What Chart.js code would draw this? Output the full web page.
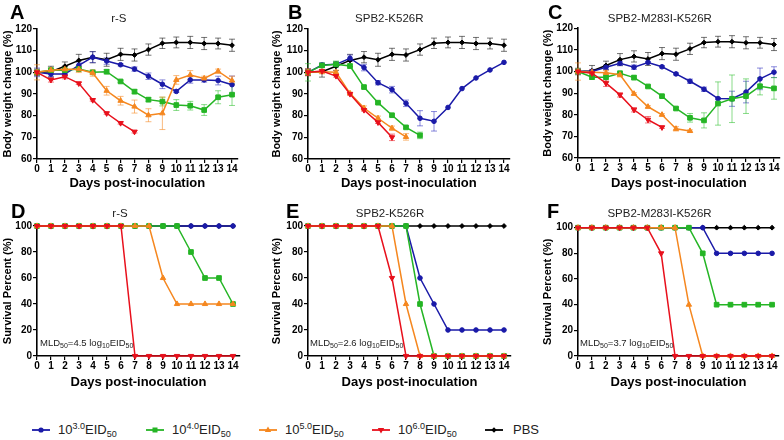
<!DOCTYPE html>
<html><head><meta charset="utf-8">
<script src="https://cdn.jsdelivr.net/npm/chart.js@4.4.1/dist/chart.umd.min.js"></script>
<style>
html,body{margin:0;padding:0;background:#fff;}
#wrap{position:relative;width:784px;height:440px;overflow:hidden;font-family:'Liberation Sans',Arial,sans-serif;background:#fff;}
canvas{position:absolute;}
.letter{position:absolute;font-weight:bold;font-size:20px;line-height:20px;color:#000;}
.mld{position:absolute;font-size:9.5px;line-height:10px;color:#222;white-space:nowrap;}
.mld sub{font-size:7px;vertical-align:-2px;}
.lg{position:absolute;top:421px;height:18px;white-space:nowrap;}
.lg svg{position:absolute;top:4px;left:0;}
.lg span{position:absolute;top:0;font-size:13px;line-height:18px;color:#222;}
.lg sup{font-size:9px;vertical-align:5px;line-height:0;}
.lg sub{font-size:9px;vertical-align:-3px;line-height:0;}
</style></head>
<body><div id="wrap">
<canvas id="cA" width="276" height="195" style="left:0;top:0"></canvas>
<canvas id="cB" width="290" height="195" style="left:269px;top:0"></canvas>
<canvas id="cC" width="284" height="195" style="left:540px;top:0"></canvas>
<canvas id="cD" width="268" height="197" style="left:0;top:195px"></canvas>
<canvas id="cE" width="250" height="197" style="left:269px;top:195px"></canvas>
<canvas id="cF" width="274" height="197" style="left:540px;top:195px"></canvas>
<div class="letter" style="left:10px;top:2px">A</div>
<div class="letter" style="left:288px;top:2px">B</div>
<div class="letter" style="left:548px;top:2px">C</div>
<div class="letter" style="left:11px;top:201px">D</div>
<div class="letter" style="left:286px;top:201px">E</div>
<div class="letter" style="left:547px;top:201px">F</div>
<div class="mld" style="left:40px;top:338px">MLD<sub>50</sub>=4.5 log<sub>10</sub>EID<sub>50</sub></div>
<div class="mld" style="left:310px;top:338px">MLD<sub>50</sub>=2.6 log<sub>10</sub>EID<sub>50</sub></div>
<div class="mld" style="left:580px;top:338px">MLD<sub>50</sub>=3.7 log<sub>10</sub>EID<sub>50</sub></div>
<div id="legend"></div>
</div>
<script>
// ---------- data ----------
const days = [0,1,2,3,4,5,6,7,8,9,10,11,12,13,14];
const weightTicks = [60,70,80,90,100,110,120];
const survivalTicks = [0,20,40,60,80,100];
const seriesLabels = ['10^3.0 EID50','10^4.0 EID50','10^5.0 EID50','10^6.0 EID50','PBS'];

// PBS body weight (same control group in A, B, C)
const pbsWeight    = [100,100.3,102.8,105.5,107,105.8,108.3,108,110.5,113.4,113.8,113.8,113.3,113.3,112.5];
const pbsWeightErr = [1.5,2.5,2,2.8,2.6,3,2.8,2.8,2.6,2.4,2.5,2.8,2.8,2.5,2.8];

// A: r-S body weight
const weightA_e3 = [100,99.2,99.2,103.2,107,105.2,103.5,101.5,98.2,94.5,91.2,96.5,96.5,96.2,94.3];
const errA_e3    = [2,1.2,1,1.5,2.5,1.5,0.5,1,1.5,2,0.5,1.5,1,2,4];
const weightA_e4 = [100,101,101,101.5,100,100.3,95.8,91.1,87.4,86.5,84.9,84.6,82.6,88.5,89.7];
const errA_e4    = [1,1,0.5,0.5,0.5,1,0.5,1,1,2,2.5,2,2.5,3,5];
const weightA_e5 = [100,101,101.4,101.4,99.7,91.5,86.9,84.2,80.2,81.1,96.5,98.8,97.2,100.5,96.2];
const errA_e5    = [3.5,1,1,1.5,1.5,2,2,3,3,7.5,2,2,1,1,2];
const weightA_e6 = [100,96.5,98,94.9,87.2,81.1,76.6,72.6];
const errA_e6    = [1,1,1,0.5,0.5,0.5,0.5,0.6];

// B: SPB2-K526R body weight
const weightB_e3 = [100,103.4,103.7,106.5,102.2,95.2,92,85.7,78.8,77.4,83.8,92.5,97.4,101.1,104.6];
const errB_e3    = [1.5,1,1,1.5,1.5,1,1.5,1.5,3.5,4.5,0,0,0,0,0];
const weightB_e4 = [100,103.2,103.7,102.9,93.2,86,80.2,74.6,70.9];
const errB_e4    = [4,1,1.5,1,0.5,0.5,0.5,0.5,1.5];
const weightB_e5 = [100,100.3,100,90.3,83.5,78.8,74.2,70.2];
const errB_e5    = [1.5,1,1,0.5,1,1,1,1.5];
const weightB_e6 = [100,100.6,98.3,90,82.6,76.9,70];
const errB_e6    = [1.5,0.5,0.5,0.5,0.5,0.5,1.5];

// C: SPB2-M283I-K526R body weight
const weightC_e3 = [100,100,102,103.8,102,104.2,102.2,98.9,95.5,91.8,87.5,87.4,90.5,96.6,99.7];
const errC_e3    = [1,1,1,1,1,0.5,0.5,0.5,1,1,0.5,3.5,5,5,2.5];
const weightC_e4 = [100,97.4,97.4,99.2,97.2,93.1,88.6,82.9,78.6,77.4,85.2,87.4,88.6,93.2,92.2];
const errC_e4    = [1,1,2,1,1,0.5,0.5,0.5,2,3.5,10,11,8,4,5];
const weightC_e5 = [100,99.7,99.4,98.5,89.7,83.7,80,73.5,72.5];
const errC_e5    = [4,1,1,1,0.5,0.5,0.5,1,0.5];
const weightC_e6 = [100,99.2,94.6,89.2,82.3,77.7,74.2];
const errC_e6    = [1,1.5,1.5,1,1,1.5,0.5];

// Survival (%)
const pbsSurvival = [100,100,100,100,100,100,100,100,100,100,100,100,100,100,100];
const survD_e3 = [100,100,100,100,100,100,100,100,100,100,100,100,100,100,100];
const survD_e4 = [100,100,100,100,100,100,100,100,100,100,100,80,60,60,40];
const survD_e5 = [100,100,100,100,100,100,100,100,100,60,40,40,40,40,40];
const survD_e6 = [100,100,100,100,100,100,100,0,0,0,0,0,0,0,0];
const survE_e3 = [100,100,100,100,100,100,100,100,60,40,20,20,20,20,20];
const survE_e4 = [100,100,100,100,100,100,100,100,40,0,0,0,0,0,0];
const survE_e5 = [100,100,100,100,100,100,100,40,0,0,0,0,0,0,0];
const survE_e6 = [100,100,100,100,100,100,60,0,0,0,0,0,0,0,0];
const survF_e3 = [100,100,100,100,100,100,100,100,100,100,80,80,80,80,80];
const survF_e4 = [100,100,100,100,100,100,100,100,100,80,40,40,40,40,40];
const survF_e5 = [100,100,100,100,100,100,100,100,40,0,0,0,0,0,0];
const survF_e6 = [100,100,100,100,100,100,80,0,0,0,0,0,0,0,0];

// ---------- styles ----------
const FF = "'Liberation Sans', Arial, sans-serif";
const STY = [
  {color:'#1a1aa8', err:'rgba(40,40,190,0.55)', style:'circle',   r:2.3, rot:0,   order:4},
  {color:'#25b525', err:'rgba(40,190,40,0.55)', style:'rect',     r:3.3, rot:0,   order:3},
  {color:'#f5871f', err:'rgba(245,140,40,0.6)', style:'triangle', r:3.1, rot:0,   order:2},
  {color:'#e8101c', err:'rgba(230,20,30,0.55)', style:'triangle', r:3.1, rot:180, order:1},
  {color:'#000000', err:'rgba(0,0,0,0.55)',     style:'rectRot',  r:2.4, rot:0,   order:5}
];

const errorBars = {
  id:'errorBars',
  beforeDatasetsDraw(chart){
    const ctx = chart.ctx, xs = chart.scales.x, ys = chart.scales.y;
    const list = chart.data.datasets.slice().sort((a,b)=>b.order-a.order);
    list.forEach(ds=>{
      if(!ds.errors) return;
      ctx.save();
      ctx.strokeStyle = ds.errorColor; ctx.lineWidth = 1;
      ds.data.forEach((p,j)=>{
        const e = ds.errors[j]; if(!e) return;
        const x = xs.getPixelForValue(p.x);
        const y1 = ys.getPixelForValue(p.y+e), y2 = ys.getPixelForValue(p.y-e);
        ctx.beginPath();
        ctx.moveTo(x,y1); ctx.lineTo(x,y2);
        ctx.moveTo(x-3,y1); ctx.lineTo(x+3,y1);
        ctx.moveTo(x-3,y2); ctx.lineTo(x+3,y2);
        ctx.stroke();
      });
      ctx.restore();
    });
  }
};

function makePanel(id, c){
  const datasets = c.series.map((s,k)=>{
    const st = STY[k];
    return {
      label: seriesLabels[k],
      data: s.values.map((v,i)=>({x:days[i], y:v})),
      errors: s.errors || null,
      errorColor: st.err,
      borderColor: st.color, backgroundColor: st.color,
      pointBorderColor: st.color, pointBackgroundColor: st.color,
      borderWidth: 1.5, pointStyle: st.style, pointRadius: st.r, pointRotation: st.rot,
      pointBorderWidth: 1, tension: 0, clip: false, order: st.order
    };
  });
  const ticksArr = c.yTicks;
  new Chart(document.getElementById(id), {
    type:'line',
    data:{datasets},
    options:{
      responsive:false, animation:false, devicePixelRatio:1, events:[],
      layout:{padding:{left:0,right:c.padRight,top:0,bottom:0}},
      plugins:{
        legend:{display:false}, tooltip:{enabled:false},
        title:{display:true, text:c.title, color:'#222',
          font:{family:FF,size:11.5,weight:'normal',lineHeight:1.2},
          padding:{top:c.tTop,bottom:c.tBot}}
      },
      scales:{
        x:{type:'linear', min:0, max:c.xMax,
          afterBuildTicks:s=>{s.ticks = days.map(v=>({value:v}));},
          afterFit:s=>{s.height = c.xH;},
          grid:{display:true, drawOnChartArea:false, drawTicks:true, tickLength:4, color:'#000', lineWidth:1.2},
          border:{display:true, color:'#000', width:1.6},
          ticks:{color:'#000', font:{family:FF,size:10,weight:'bold',lineHeight:1.2}, padding:0, maxRotation:0, autoSkip:false},
          title:{display:true, text:'Days post-inoculation', color:'#000',
            font:{family:FF,size:13,weight:'bold',lineHeight:1.2}, padding:{top:0,bottom:c.xtPad}}
        },
        y:{type:'linear', min:ticksArr[0], max:ticksArr[ticksArr.length-1],
          afterBuildTicks:s=>{s.ticks = ticksArr.map(v=>({value:v}));},
          afterFit:s=>{s.width = c.yW;},
          grid:{display:true, drawOnChartArea:false, drawTicks:true, tickLength:4, color:'#000', lineWidth:1.2},
          border:{display:true, color:'#000', width:1.6},
          ticks:{color:'#000', font:{family:FF,size:10,weight:'bold'}, padding:1, autoSkip:false},
          title:{display:true, text:c.yTitle, color:'#000',
            font:{family:FF,size:11,weight:'bold',lineHeight:1.2}, padding:{top:1,bottom:0}}
        }
      }
    },
    plugins:[errorBars]
  });
}

const WT = 'Body weight change (%)', ST = 'Survival Percent (%)';
makePanel('cA',{title:'r-S', yTitle:WT, yTicks:weightTicks, xMax:14.4, yW:37, padRight:38.4, tTop:12.1, tBot:3.1, xH:36, xtPad:4.2,
  series:[{values:weightA_e3,errors:errA_e3},{values:weightA_e4,errors:errA_e4},{values:weightA_e5,errors:errA_e5},{values:weightA_e6,errors:errA_e6},{values:pbsWeight,errors:pbsWeightErr}]});
makePanel('cB',{title:'SPB2-K526R', yTitle:WT, yTicks:weightTicks, xMax:14.4, yW:39, padRight:49.4, tTop:12.1, tBot:3.1, xH:36, xtPad:4.2,
  series:[{values:weightB_e3,errors:errB_e3},{values:weightB_e4,errors:errB_e4},{values:weightB_e5,errors:errB_e5},{values:weightB_e6,errors:errB_e6},{values:pbsWeight,errors:pbsWeightErr}]});
makePanel('cC',{title:'SPB2-M283I-K526R', yTitle:WT, yTicks:weightTicks, xMax:14.4, yW:38, padRight:44.4, tTop:11.5, tBot:3.0, xH:37, xtPad:4.2,
  series:[{values:weightC_e3,errors:errC_e3},{values:weightC_e4,errors:errC_e4},{values:weightC_e5,errors:errC_e5},{values:weightC_e6,errors:errC_e6},{values:pbsWeight,errors:pbsWeightErr}]});
makePanel('cD',{title:'r-S', yTitle:ST, yTicks:survivalTicks, xMax:14.5, yW:37, padRight:28, tTop:12.1, tBot:5.1, xH:36, xtPad:2.2,
  series:[{values:survD_e3},{values:survD_e4},{values:survD_e5},{values:survD_e6},{values:pbsSurvival}]});
makePanel('cE',{title:'SPB2-K526R', yTitle:ST, yTicks:survivalTicks, xMax:14.5, yW:39, padRight:8, tTop:12.1, tBot:5.1, xH:36, xtPad:2.2,
  series:[{values:survE_e3},{values:survE_e4},{values:survE_e5},{values:survE_e6},{values:pbsSurvival}]});
makePanel('cF',{title:'SPB2-M283I-K526R', yTitle:ST, yTicks:survivalTicks, xMax:14.5, yW:38, padRight:35, tTop:12.1, tBot:6.8, xH:36, xtPad:2.2,
  series:[{values:survF_e3},{values:survF_e4},{values:survF_e5},{values:survF_e6},{values:pbsSurvival}]});

// ---------- legend ----------
const legendItems = [
  {x:32, tx:58,  html:'10<sup>3.0</sup>EID<sub>50</sub>'},
  {x:146,tx:172, html:'10<sup>4.0</sup>EID<sub>50</sub>'},
  {x:259,tx:285, html:'10<sup>5.0</sup>EID<sub>50</sub>'},
  {x:372,tx:398, html:'10<sup>6.0</sup>EID<sub>50</sub>'},
  {x:485,tx:513, html:'PBS'}
];
function markerSvg(k){
  const c = STY[k].color;
  let m='';
  if(k===0) m=`<circle cx="9" cy="5" r="2.6" fill="${c}"/>`;
  if(k===1) m=`<rect x="6.5" y="2.5" width="5" height="5" fill="${c}"/>`;
  if(k===2) m=`<polygon points="9,1.5 12.2,7 5.8,7" fill="${c}"/>`;
  if(k===3) m=`<polygon points="9,8.5 12.2,3 5.8,3" fill="${c}"/>`;
  if(k===4) m=`<polygon points="9,2.3 11.7,5 9,7.7 6.3,5" fill="${c}"/>`;
  return `<svg width="18" height="10"><line x1="0" y1="5" x2="18" y2="5" stroke="${c}" stroke-width="1.8"/>${m}</svg>`;
}
const lg = document.getElementById('legend');
legendItems.forEach((it,k)=>{
  const d = document.createElement('div');
  d.className='lg'; d.style.left=it.x+'px';
  d.innerHTML = markerSvg(k) + `<span style="left:${it.tx-it.x}px">${it.html}</span>`;
  lg.appendChild(d);
});
</script>
</body></html>
